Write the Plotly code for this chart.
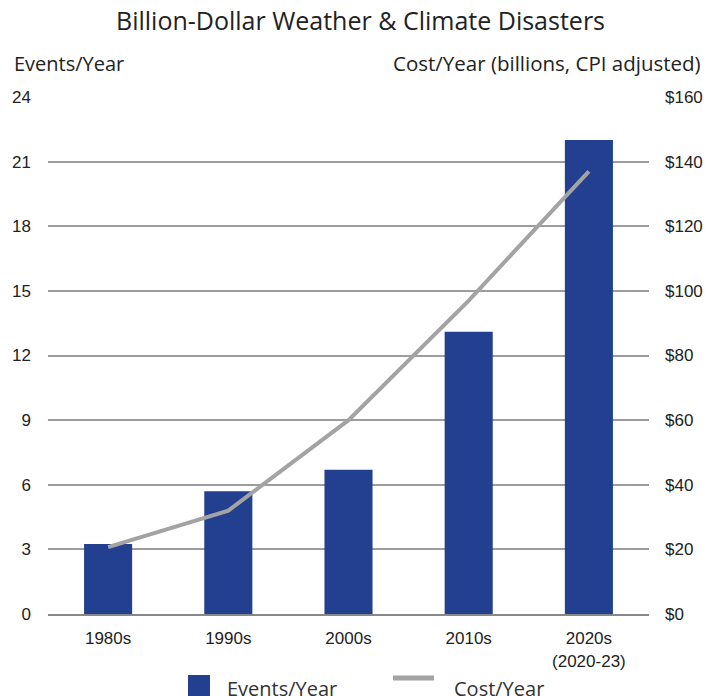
import plotly.graph_objects as go

categories = ["1980s", "1990s", "2000s", "2010s", "2020s<br>(2020-23)"]
events_per_year = [3.25, 5.7, 6.7, 13.1, 22.0]
cost_per_year = [20.7, 32, 60, 97, 137]
left_ticks = [0, 3, 6, 9, 12, 15, 18, 21, 24]
right_ticks = [0, 20, 40, 60, 80, 100, 120, 140, 160]

BAR = "#22408F"
LINE = "#a3a3a3"
TICKFONT = dict(family="Liberation Sans, Arial", size=17, color="#222")
TEXTFONT = "Open Sans"

fig = go.Figure()
fig.add_trace(go.Bar(x=categories, y=events_per_year, marker_color=BAR,
                     marker_line_width=0, name="Events/Year", yaxis="y",
                     showlegend=False))
fig.add_trace(go.Scatter(x=categories, y=cost_per_year, mode="lines",
                         line=dict(color=LINE, width=4), name="Cost/Year",
                         yaxis="y2", showlegend=False))

fig.update_layout(
    width=721, height=696, autosize=False,
    margin=dict(l=48, r=72, t=97, b=82),
    paper_bgcolor="white", plot_bgcolor="white",
    bargap=0.6,
    title=dict(text="Billion-Dollar Weather & Climate Disasters",
               x=0.5, xanchor="center", y=1 - 21/696, yanchor="middle",
               font=dict(family=TEXTFONT, size=25, color="#222")),
    xaxis=dict(showgrid=False, showline=True, linecolor="#888888",
               linewidth=2, tickfont=TICKFONT,
               ticks="", ticklabelstandoff=8),
    yaxis=dict(range=[0, 24], tickvals=left_ticks, showgrid=True,
               gridcolor="#9c9c9c", gridwidth=2, zeroline=False,
               tickfont=TICKFONT, ticklabelstandoff=16, ticks=""),
    yaxis2=dict(range=[0, 160], tickvals=right_ticks,
                ticktext=["$" + str(v) for v in right_ticks],
                overlaying="y", side="right", showgrid=False, zeroline=False,
                tickfont=TICKFONT, ticklabelstandoff=15, ticks=""),
)

def px_x(p):
    return (p - 48) / 601
def px_y(p):
    return (614 - p) / 517

fig.add_annotation(text="Events/Year", xref="paper", yref="paper",
                   x=px_x(12), y=px_y(63), xanchor="left", yanchor="middle",
                   showarrow=False, font=dict(family=TEXTFONT, size=20, color="#222"))
fig.add_annotation(text="Cost/Year (billions, CPI adjusted)", xref="paper", yref="paper",
                   x=px_x(703), y=px_y(63), xanchor="right", yanchor="middle",
                   showarrow=False, font=dict(family=TEXTFONT, size=20.5, color="#222"))

# legend drawn manually
fig.add_shape(type="rect", xref="paper", yref="paper",
              x0=px_x(188), x1=px_x(210), y0=px_y(697), y1=px_y(675),
              fillcolor=BAR, line_width=0)
fig.add_annotation(text="Events/Year", xref="paper", yref="paper",
                   x=px_x(225), y=px_y(688), xanchor="left", yanchor="middle",
                   showarrow=False, font=dict(family=TEXTFONT, size=20, color="#333"))
fig.add_shape(type="line", xref="paper", yref="paper",
              x0=px_x(393), x1=px_x(434), y0=px_y(678), y1=px_y(678),
              line=dict(color=LINE, width=5))
fig.add_annotation(text="Cost/Year", xref="paper", yref="paper",
                   x=px_x(452), y=px_y(688), xanchor="left", yanchor="middle",
                   showarrow=False, font=dict(family=TEXTFONT, size=20, color="#333"))

fig.write_html("out.html")
